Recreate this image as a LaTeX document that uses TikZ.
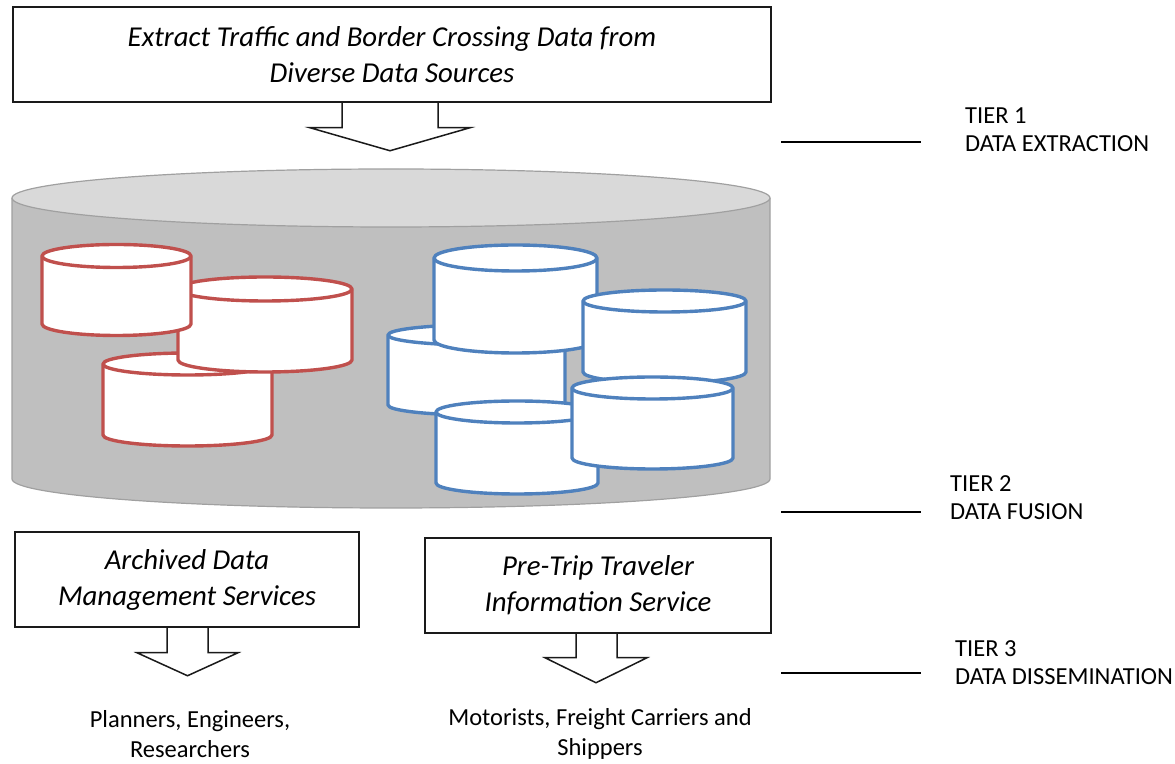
\documentclass[tikz,border=0pt]{standalone}
\usepackage{fontspec}
\setmainfont{Carlito}
\usetikzlibrary{calc}

\definecolor{dbred}{HTML}{C0504D}
\definecolor{dbblue}{HTML}{4F81BD}
\definecolor{tankside}{HTML}{BFBFBF}
\definecolor{tanktop}{HTML}{D9D9D9}
\definecolor{tankline}{HTML}{A0A0A0}
\definecolor{ink}{HTML}{1A1A1A}

% small database cylinder: colour, centre x, top-ellipse y, bottom y, x radius, y radius
\newcommand\dbcyl[6]{%
  \filldraw[draw=#1, fill=white, line width=3.4pt, line join=round]
    (#2-#5,#3) -- (#2-#5,#4)
    arc[start angle=180, end angle=360, x radius=#5pt, y radius=#6pt]
    -- (#2+#5,#3)
    arc[start angle=0, end angle=180, x radius=#5pt, y radius=#6pt] -- cycle;
  \draw[#1, line width=3.4pt]
    (#2-#5,#3) arc[start angle=180, end angle=360, x radius=#5pt, y radius=#6pt];
}

\tikzset{
  svcbox/.style={draw=ink, line width=1.5pt, fill=white, align=center,
    inner sep=0pt, font=\itshape\fontsize{28.8}{36}\selectfont},
  blockarrow/.style={draw=ink, line width=1.5pt, line join=miter},
  tierrule/.style={draw=black, line width=1.6pt},
  tiertext/.style={anchor=west, align=left, inner sep=0pt,
    font=\fontsize{24.5}{28}\selectfont},
  usertext/.style={align=center, inner sep=0pt,
    font=\fontsize{24.5}{30}\selectfont},
}

\begin{document}
\begin{tikzpicture}[x=1pt, y=1pt]
\useasboundingbox (0,0) rectangle (1175,763);

% central data store
\fill[tankside] (12,565) -- (12,284)
  arc[start angle=180, end angle=360, x radius=379pt, y radius=29pt]
  -- (770,565) -- cycle;
\draw[tankline, line width=1.2pt] (12,565) -- (12,284)
  arc[start angle=180, end angle=360, x radius=379pt, y radius=29pt]
  -- (770,565);
\filldraw[fill=tanktop, draw=tankline, line width=1.2pt]
  (391,565) ellipse [x radius=379pt, y radius=29pt];

% archived databases
\dbcyl{dbred}{187.5}{399}{328}{84.5}{11}
\dbcyl{dbred}{265}{474}{403}{87}{12}
\dbcyl{dbred}{116.5}{507}{439}{74.5}{11.5}

% traveler information databases
\dbcyl{dbblue}{476.5}{428}{358}{88.5}{10}
\dbcyl{dbblue}{515.5}{505}{423}{81.5}{13}
\dbcyl{dbblue}{664.5}{462}{391}{81.5}{11}
\dbcyl{dbblue}{517}{351}{280}{81}{11}
\dbcyl{dbblue}{652.5}{375}{305}{80.5}{11}

% service boxes
\node[svcbox, minimum width=758pt, minimum height=95pt] (extract) at (392,708.5)
  {Extract Traffic and Border Crossing Data from\\Diverse Data Sources};
\node[svcbox, minimum width=344pt, minimum height=95pt] (archived) at (187,183.5)
  {Archived Data\\Management Services};
\node[svcbox, minimum width=346pt, minimum height=95pt] (pretrip) at (598,177.5)
  {Pre-Trip Traveler\\Information Service};

% block arrows
\draw[blockarrow] ([xshift=-50pt]extract.south) -- ++(0,-25) -- ++(-32,0)
  -- ++(80,-23) -- ++(80,23) -- ++(-32,0) -- ++(0,25);
\draw[blockarrow] ([xshift=-20pt]archived.south) -- ++(0,-25) -- ++(-30,0)
  -- ++(50.5,-23) -- ++(50.5,23) -- ++(-30,0) -- ++(0,25);
\draw[blockarrow] ([xshift=-22pt]pretrip.south) -- ++(0,-24) -- ++(-31,0)
  -- ++(51,-25) -- ++(51,25) -- ++(-30,0) -- ++(0,24);

% user groups
\node[usertext] (planners) at (190,29) {Planners, Engineers,\\Researchers};
\node[usertext] (motorists) at (600,29) {Motorists, Freight Carriers and\\Shippers};

% tier markers
\coordinate (t1a) at (781,621); \coordinate (t1b) at (921,621);
\coordinate (t2a) at (781,251); \coordinate (t2b) at (921,251);
\coordinate (t3a) at (781,90);  \coordinate (t3b) at (921,90);
\draw[tierrule] (t1a) -- (t1b);
\draw[tierrule] (t2a) -- (t2b);
\draw[tierrule] (t3a) -- (t3b);
\node[tiertext] (tier1) at (965,633.5) {TIER 1\\DATA EXTRACTION};
\node[tiertext] (tier2) at (950,265) {TIER 2\\DATA FUSION};
\node[tiertext] (tier3) at (955,100.5) {TIER 3\\DATA DISSEMINATION};
\end{tikzpicture}
\end{document}
